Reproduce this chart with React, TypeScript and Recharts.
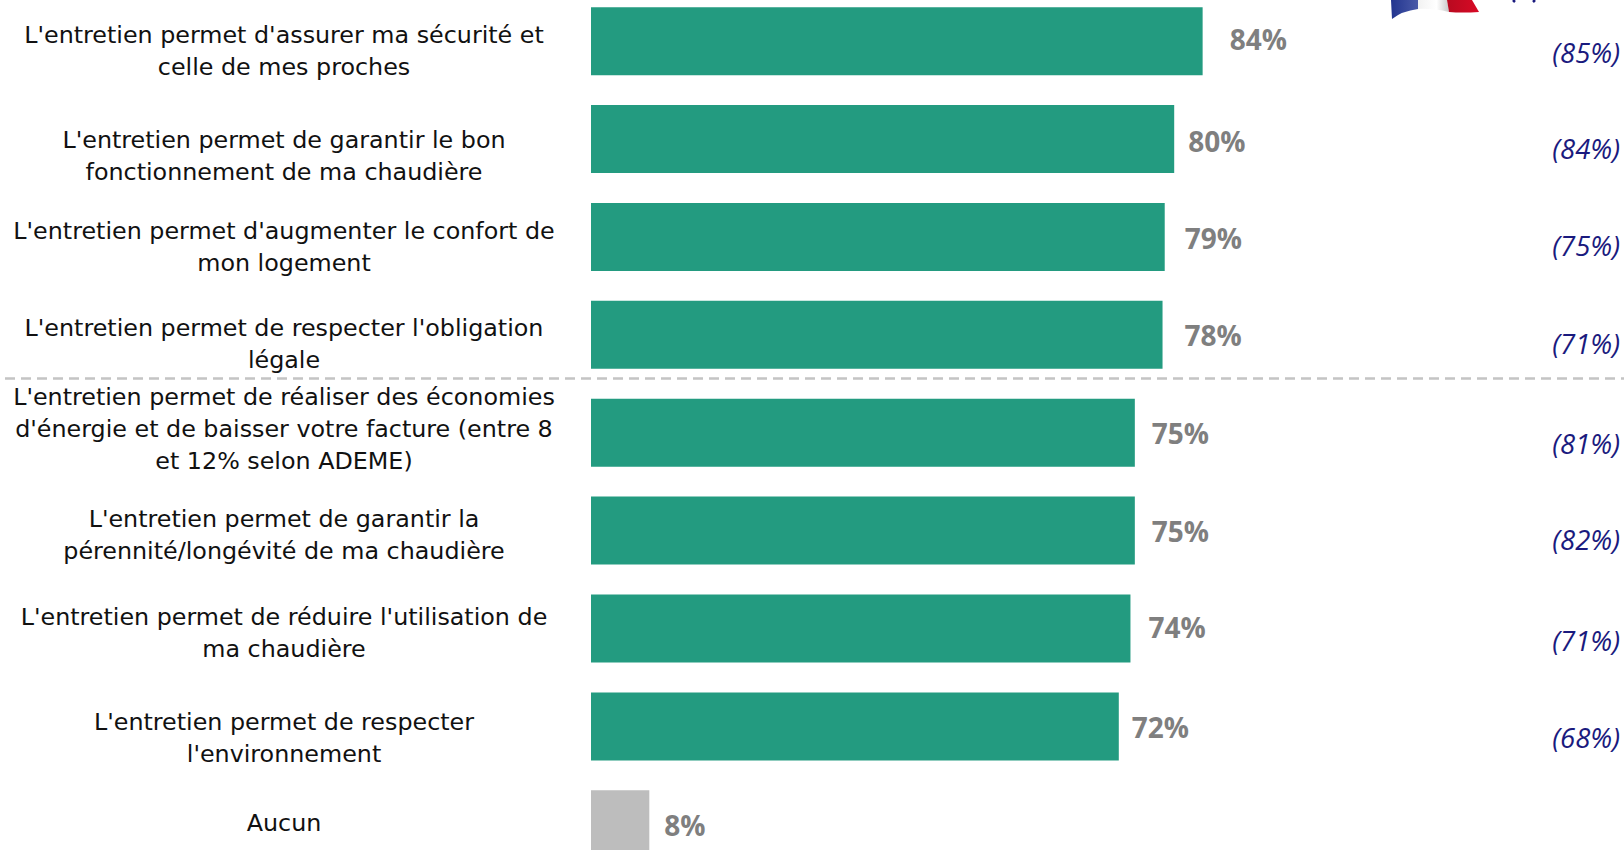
import React from "react";
import { BarChart, Bar, XAxis, YAxis, LabelList, ReferenceLine, Cell } from "recharts";

const categories = [
  ["L'entretien permet d'assurer ma sécurité et", "celle de mes proches"],
  ["L'entretien permet de garantir le bon", "fonctionnement de ma chaudière"],
  ["L'entretien permet d'augmenter le confort de", "mon logement"],
  ["L'entretien permet de respecter l'obligation", "légale"],
  ["L'entretien permet de réaliser des économies", "d'énergie et de baisser votre facture (entre 8", "et 12% selon ADEME)"],
  ["L'entretien permet de garantir la", "pérennité/longévité de ma chaudière"],
  ["L'entretien permet de réduire l'utilisation de", "ma chaudière"],
  ["L'entretien permet de respecter", "l'environnement"],
  ["Aucun"],
];
const barValues = [83.9, 80, 78.7, 78.4, 74.6, 74.6, 74, 72.4, 8];
const valueLabels = ["84%", "80%", "79%", "78%", "75%", "75%", "74%", "72%", "8%"];
const previousLabels = ["(85%)", "(84%)", "(75%)", "(71%)", "(81%)", "(82%)", "(71%)", "(68%)", ""];
const barColors = ["#239b80", "#239b80", "#239b80", "#239b80", "#239b80", "#239b80", "#239b80", "#239b80", "#bdbdbd"];

const labelNudgeY = [10, 17, 10, 9, -4, 5, 5, 12, -1];
const valueNudgeX = [27, 14, 20, 22, 17, 17, 18, 13, 15];
const valueNudgeY = [-2, 2, 1, 0, 0, 0, -2, 1, 1];
const previousNudgeY = [11, 9, 9, 9, 11, 9, 12, 11, 0];

const data = categories.map((c, i) => ({ key: String(i), value: barValues[i] }));

const FONT = "'DejaVu Sans'";

const CategoryTick = (props: any) => {
  const { y, payload } = props;
  const i = Number(payload.value);
  const lines = categories[i];
  const lh = 32;
  const first = y + labelNudgeY[i] - ((lines.length - 1) * lh) / 2;
  return (
    <text textAnchor="middle" fontFamily={FONT} fontSize={23.8} fill="#111">
      {lines.map((l, k) => (
        <tspan key={k} x={284} y={first + k * lh} dominantBaseline="central">{l}</tspan>
      ))}
    </text>
  );
};

const ValueLabel = (props: any) => {
  const { x, y, width, height, index } = props;
  return (
    <text x={x + width + valueNudgeX[index]} y={y + height / 2 + valueNudgeY[index]} dominantBaseline="central"
      fontFamily="'Open Sans'" fontWeight={700} fontSize={28} fill="#7f7f7f">
      {valueLabels[index]}
    </text>
  );
};

const PreviousLabel = (props: any) => {
  const { y, height, index } = props;
  return (
    <text x={1620} y={y + height / 2 + previousNudgeY[index]} textAnchor="end" dominantBaseline="central"
      fontFamily="'Open Sans'" fontStyle="italic" fontSize={27.5} fill="#1a1a7e">
      {previousLabels[index]}
    </text>
  );
};

const Separator = (props: any) => (
  <line x1={5} x2={1624} y1={props.y1 - 5} y2={props.y1 - 5} stroke="#c4c4c4" strokeWidth={2.5} strokeDasharray="10 6" />
);

export default function App() {
  return (
    <div style={{ position: "absolute", left: 0, top: 0, width: 1624, height: 850, overflow: "hidden", background: "#fff" }}>
      <div style={{ position: "absolute", left: 0, top: -20 }}>
        <BarChart
          width={1624}
          height={900}
          data={data}
          layout="vertical"
          barCategoryGap="15.5%"
          margin={{ top: 12, right: 12.4, bottom: 7, left: 0 }}
        >
          <defs>
            <linearGradient id="flagBlue" x1="0" x2="1" y1="0" y2="0">
              <stop offset="0" stopColor="#22358f" />
              <stop offset="1" stopColor="#4a5aa8" />
            </linearGradient>
            <linearGradient id="flagWhite" x1="0" x2="1" y1="0" y2="0">
              <stop offset="0" stopColor="#f2f2f2" />
              <stop offset="0.6" stopColor="#ffffff" />
              <stop offset="1" stopColor="#c9c9c9" />
            </linearGradient>
            <linearGradient id="flagRed" x1="0" x2="1" y1="0" y2="0">
              <stop offset="0" stopColor="#b80a20" />
              <stop offset="1" stopColor="#d80a25" />
            </linearGradient>
          </defs>
          <XAxis type="number" domain={[0, 140]} hide />
          <YAxis type="category" dataKey="key" width={591} axisLine={false} tickLine={false} tick={CategoryTick} interval={0} />
          <ReferenceLine y="4" position="start" shape={Separator} ifOverflow="visible" />
          <Bar dataKey="value" isAnimationActive={false}>
            {data.map((d, i) => <Cell key={d.key} fill={barColors[i]} />)}
            <LabelList dataKey="value" content={ValueLabel} />
            <LabelList dataKey="value" content={PreviousLabel} />
          </Bar>
          <path d="M1391 20 L1418 20 L1418 29 Q1402 31 1392 39 Z" fill="url(#flagBlue)" />
          <path d="M1418 20 L1447 20 L1449 32 Q1432 28 1418 29 Z" fill="url(#flagWhite)" />
          <path d="M1447 20 L1472 20 L1479 32 Q1462 33 1449 32 Z" fill="url(#flagRed)" />
          <path d="M1513 20 L1515 22 M1535 20 L1533 22" stroke="#1a1a7e" strokeWidth={2.5} fill="none" />
        </BarChart>
      </div>
    </div>
  );
}
